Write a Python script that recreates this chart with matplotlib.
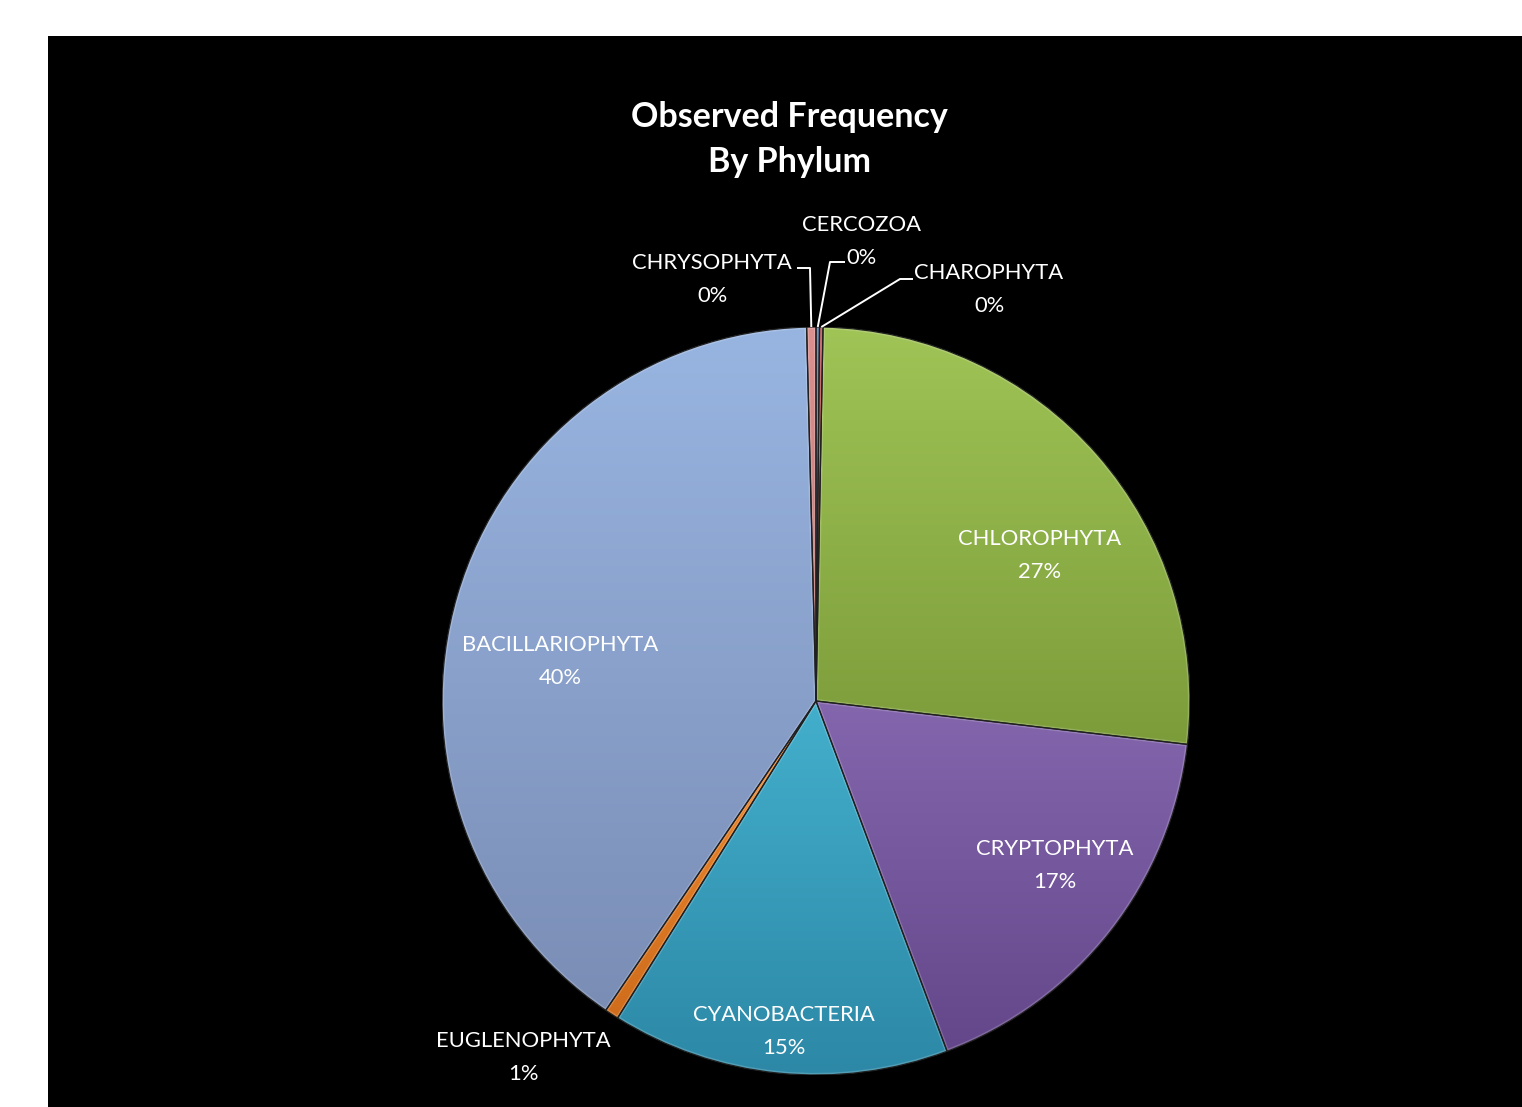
import numpy as np
import matplotlib
matplotlib.use("Agg")
import matplotlib.pyplot as plt
from matplotlib.colors import to_rgb
from matplotlib.patches import Rectangle, PathPatch

# ---- data ----
phyla = ['CERCOZOA', 'CHAROPHYTA', 'CHLOROPHYTA', 'CRYPTOPHYTA',
         'CYANOBACTERIA', 'EUGLENOPHYTA', 'BACILLARIOPHYTA', 'CHRYSOPHYTA']
freq = [0.15, 0.15, 26.55, 17.45, 14.6, 0.6, 40.1, 0.4]
title = "Observed Frequency\nBy Phylum"

# ---- style ----
top_colors = ['#4F81BD', '#C0504D', '#A0C456', '#8466AE', '#43AFCC',
              '#F28B30', '#98B5E1', '#DC918F']
bot_colors = ['#3E6698', '#9A3E3C', '#7C9C3A', '#64478A', '#2C88A6',
              '#CF6D1C', '#7A8DB5', '#B87573']

W, H = 1522, 1107
fig = plt.figure(figsize=(W / 100, H / 100), dpi=100, facecolor='white')
fig.patches.append(Rectangle((48 / W, 0), 1 - 48 / W, 1 - 36 / H,
                             transform=fig.transFigure, facecolor='black',
                             edgecolor='none', zorder=-10))

cx, cy, R = 816, 701, 374
ax = fig.add_axes([(cx - R) / W, (H - cy - R) / H, 2 * R / W, 2 * R / H])
ax.set_zorder(1)
ax.patch.set_alpha(0)

wedges, _ = ax.pie(freq, startangle=90, counterclock=False, radius=1,
                   colors=top_colors,
                   wedgeprops=dict(edgecolor='none', linewidth=0))

for w, c1, c2 in zip(wedges, top_colors, bot_colors):
    path = w.get_path()
    bb = path.get_extents()
    a = np.array(to_rgb(c1))
    b = np.array(to_rgb(c2))
    t = np.linspace(0, 1, 256)[:, None]
    grad = (a[None, :] * (1 - t) + b[None, :] * t)[:, None, :]
    im = ax.imshow(grad, extent=[bb.x0, bb.x1, bb.y0, bb.y1], origin='upper',
                   aspect='auto', zorder=1.5, interpolation='bilinear')
    im.set_clip_path(w)
    # soft light bevel along the wedge border
    hl = PathPatch(path, fill=False, edgecolor='white', alpha=0.18,
                   linewidth=3.0, zorder=1.8)
    ax.add_patch(hl)
    hl.set_clip_path(w)
    ax.add_patch(PathPatch(path, fill=False, edgecolor='#202020',
                           linewidth=0.9, zorder=2))

ax.set_xlim(-1, 1)
ax.set_ylim(-1, 1)
ax.set_aspect('equal')
ax.axis('off')

total = sum(freq)
font = ['Lato', 'DejaVu Sans']
lab_size = 15.8

def to_data(px, py):
    return (px - cx) / R, (cy - py) / R

# label block centres (pixel positions in the reference)
label_pos = {
    'CHLOROPHYTA': (1040, 555.5),
    'CRYPTOPHYTA': (1055, 865.5),
    'CYANOBACTERIA': (784, 1031.5),
    'EUGLENOPHYTA': (523, 1057.5),
    'BACILLARIOPHYTA': (560, 661.5),
    'CHRYSOPHYTA': (712, 279.5),
    'CERCOZOA': (861, 241.5),
    'CHAROPHYTA': (989, 289.5),
}
# leader line anchors near text (pixel)
leaders = {
    'CHRYSOPHYTA': [(797, 268), (810, 268)],
    'CERCOZOA': [(845, 262), (830, 262)],
    'CHAROPHYTA': [(913, 279), (900, 279)],
}

for w, name, v in zip(wedges, phyla, freq):
    pct = f"{v / total * 100:.0f}%"
    x, y = to_data(*label_pos[name])
    ax.text(x, y, f"{name}\n{pct}", ha='center', va='center', color='white',
            fontsize=lab_size, family=font, linespacing=1.8, zorder=5,
            clip_on=False)
    if name in leaders:
        mid = np.deg2rad((w.theta1 + w.theta2) / 2)
        pts = [to_data(*p) for p in leaders[name]]
        pts.append((np.cos(mid), np.sin(mid)))
        xs, ys = zip(*pts)
        ax.plot(xs, ys, color='white', lw=1.4, zorder=5, clip_on=False,
                solid_capstyle='butt')

fig.text(789 / W, 1 - 139.5 / H, title, ha='center', va='center',
         color='white', fontsize=24.5, fontweight='bold', family=font,
         linespacing=1.5)

fig.savefig('out.png', dpi=100, facecolor=fig.get_facecolor())
